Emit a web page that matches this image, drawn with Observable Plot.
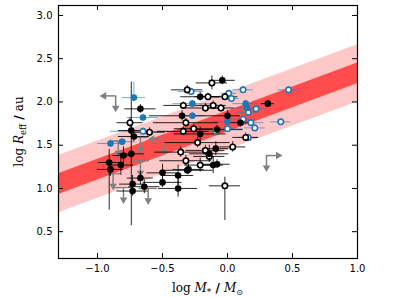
<!DOCTYPE html>
<html>
<head>
<meta charset="utf-8">
<script src="https://cdn.jsdelivr.net/npm/d3@7"></script>
<script src="https://cdn.jsdelivr.net/npm/@observablehq/plot@0.6"></script>
<style>
  html, body { margin: 0; padding: 0; background: white; }
</style>
</head>
<body>
<div id="chart"></div>
<script>
// ---------- data ----------
const xTicks = [-1.0, -0.5, 0.0, 0.5, 1.0];
const yTicks = [0.5, 1.0, 1.5, 2.0, 2.5, 3.0];

// fit line (endpoints at the frame edges) and band half-widths
const fitX = [-1.3, 1.0];
const fitY = [1.05, 2.33];
const fitInner = [0.12, 0.12];
const fitOuter = [0.33, 0.33];

// black filled
const bkX  = [-0.67,-0.74,-0.72,-0.91,-0.90,-0.82,-0.80,-0.74,-0.67,-0.73,-0.73,-0.64,-0.50,-0.50,-0.38,-0.38,-0.30,-0.11,-0.08,-0.04,-0.21,0.31,-0.35,0.00,-0.21,0.10,-0.08,-0.14,-0.09,-0.31];
const bkY  = [1.92,1.67,1.60,1.30,1.22,1.27,1.38,1.40,1.12,1.05,0.97,1.02,1.18,1.07,1.15,1.00,1.22,1.27,1.28,2.25,2.06,1.98,1.84,1.84,1.63,1.76,1.68,1.40,1.46,1.21];
const bkXe = [0.12,0.10,0.12,0.08,0.10,0.10,0.08,0.10,0.10,0.10,0.12,0.12,0.12,0.15,0.12,0.15,0.12,0.08,0.10,0.10,0.15,0.05,0.25,0.10,0.20,0.08,0.20,0.15,0.10,0.20];
const bkYlo= [0.05,0.05,0.06,0.55,0.08,0.12,0.10,0.83,0.08,0.10,0.06,0.08,0.10,0.06,0.12,0.10,0.06,0.10,0.05,0.05,0.05,0.04,0.06,0.06,0.08,0.05,0.05,0.10,0.08,0.05];
const bkYhi= [0.05,0.05,0.06,0.15,0.08,0.12,0.10,0.83,0.08,0.10,0.06,0.08,0.10,0.06,0.12,0.10,0.06,0.10,0.05,0.05,0.05,0.04,0.06,0.06,0.08,0.05,0.05,0.10,0.08,0.05];

// black open
const opX  = [-0.12,-0.31,-0.15,-0.02,-0.34,-0.17,-0.11,-0.05,-0.32,-0.26,-0.34,-0.75,-0.60,0.04,0.14,-0.17,-0.36,-0.32,-0.21,-0.02,-0.23,-0.14];
const opY  = [2.22,2.14,2.06,2.06,1.96,1.93,1.96,1.93,1.76,1.69,1.66,1.76,1.65,1.48,1.59,1.44,1.42,1.32,1.27,1.03,1.53,1.37];
const opXe = [0.12,0.12,0.10,0.10,0.15,0.15,0.10,0.10,0.25,0.15,0.20,0.10,0.12,0.10,0.10,0.15,0.20,0.20,0.12,0.12,0.25,0.12];
const opYlo= [0.08,0.05,0.04,0.04,0.04,0.05,0.05,0.04,0.05,0.05,0.05,0.06,0.05,0.06,0.05,0.06,0.06,0.06,0.08,0.40,0.06,0.05];
const opYhi= [0.08,0.05,0.04,0.04,0.04,0.05,0.05,0.04,0.05,0.05,0.05,0.06,0.05,0.06,0.05,0.06,0.06,0.06,0.08,0.10,0.06,0.05];

// blue filled
const bfX  = [-0.72,-0.65,-0.90,-0.81,-0.27,0.14,0.15,-0.27,0.00];
const bfY  = [2.05,1.82,1.52,1.54,1.98,1.98,1.93,1.84,1.77];
const bfXe = [0.09,0.12,0.10,0.10,0.15,0.10,0.10,0.10,0.12];
const bfYlo= [0.05,0.04,0.04,0.04,0.04,0.04,0.04,0.04,0.04];
const bfYhi= [0.18,0.04,0.04,0.04,0.04,0.04,0.04,0.04,0.04];

// blue open
const boX  = [-0.28,0.12,0.47,0.01,0.03,0.16,0.22,0.12,0.18,0.21,0.41,0.00,-0.09,0.16,-0.65];
const boY  = [2.12,2.14,2.14,2.10,2.04,1.88,1.92,1.80,1.76,1.70,1.77,1.69,1.66,1.59,1.66];
const boXe = [0.10,0.08,0.08,0.06,0.06,0.08,0.08,0.10,0.10,0.08,0.08,0.12,0.10,0.08,0.25];
const boYlo= [0.04,0.04,0.04,0.04,0.04,0.04,0.04,0.04,0.04,0.04,0.04,0.04,0.04,0.04,0.04];
const boYhi= [0.04,0.04,0.04,0.04,0.04,0.04,0.04,0.04,0.04,0.04,0.04,0.04,0.04,0.04,0.04];

// grey upper limits (arrow down), some also limited in x
const glX   = [-0.86,-0.49,0.30,-0.84,-0.67,-0.67,-0.88,-0.80,-0.61];
const glY   = [2.07,1.57,1.38,1.55,1.59,1.32,1.17,1.01,1.00];
const glXe  = [0,0,0,0.06,0.06,0.07,0.06,0.07,0.07];
const glXdir= [-1,-1,1,0,0,0,0,0,0];

// ---------- styling constants ----------
const BLUE = "#1f77b4", GREY = "#808080";
const limLenY = 0.14, limLenX = 0.09;

function rows(x, y, xe, ylo, yhi) {
  return x.map((v, i) => ({x: v, y: y[i], xe: xe[i], ylo: ylo[i], yhi: yhi[i]}));
}
const bk = rows(bkX, bkY, bkXe, bkYlo, bkYhi);
const op = rows(opX, opY, opXe, opYlo, opYhi);
const bf = rows(bfX, bfY, bfXe, bfYlo, bfYhi);
const bo = rows(boX, boY, boXe, boYlo, boYhi);
const fit = fitX.map((v, i) => ({x: v, y: fitY[i], inner: fitInner[i], outer: fitOuter[i]}));
const gl = glX.map((v, i) => ({x: v, y: glY[i], xe: glXe[i], dir: glXdir[i]}));

function errMarks(data, color, opacity) {
  return [
    Plot.ruleY(data, {y: "y", x1: d => d.x - d.xe, x2: d => d.x + d.xe, stroke: color, strokeOpacity: opacity, strokeWidth: 1}),
    Plot.ruleX(data, {x: "x", y1: d => d.y - d.ylo, y2: d => d.y + d.yhi, stroke: color, strokeOpacity: opacity, strokeWidth: 1})
  ];
}

const W = 415, H = 297, mL = 58, mR = 58, mT = 5, mB = 39;
const frameW = W - mL - mR, frameH = H - mT - mB;
const fmt = d => d.toFixed(1).replace("-", "\u2212");

const chart = Plot.plot({
  width: W, height: H,
  marginLeft: mL, marginRight: mR, marginTop: mT, marginBottom: mB,
  style: {fontFamily: "DejaVu Sans", fontSize: "10px", background: "white", color: "black"},
  x: {domain: [-1.3, 1.0]},
  y: {domain: [0.19, 3.115]},
  marks: [
    Plot.areaY(fit, {x: "x", y1: d => d.y - d.outer, y2: d => d.y + d.outer, fill: "#ffc8c8"}),
    Plot.areaY(fit, {x: "x", y1: d => d.y - d.inner, y2: d => d.y + d.inner, fill: "#ff4d4d"}),
    // grey limits
    Plot.ruleY(gl.filter(d => d.xe > 0), {y: "y", x1: d => d.x - d.xe, x2: d => d.x + d.xe, stroke: GREY, strokeWidth: 1.3}),
    Plot.ruleX(gl, {x: "x", y1: "y", y2: d => d.y - limLenY, stroke: GREY, strokeWidth: 1.5}),
    Plot.dot(gl, {x: "x", y: d => d.y - limLenY, symbol: "triangle", rotate: 180, r: 2.8, fill: GREY, stroke: "none"}),
    Plot.ruleY(gl.filter(d => d.dir !== 0), {y: "y", x1: "x", x2: d => d.x + d.dir * limLenX, stroke: GREY, strokeWidth: 1.5}),
    Plot.dot(gl.filter(d => d.dir !== 0), {x: d => d.x + d.dir * limLenX, y: "y", symbol: "triangle", rotate: d => d.dir * 90, r: 2.8, fill: GREY, stroke: "none"}),
    // error bars
    ...errMarks(bo, BLUE, 0.6),
    ...errMarks(bf, BLUE, 0.6),
    ...errMarks(op, "black", 0.85),
    ...errMarks(bk, "black", 0.85),
    // points
    Plot.dot(bo, {x: "x", y: "y", r: 2.7, fill: "white", stroke: BLUE, strokeWidth: 1.6}),
    Plot.dot(bf, {x: "x", y: "y", r: 3.3, fill: BLUE, stroke: "none"}),
    Plot.dot(op, {x: "x", y: "y", r: 2.7, fill: "white", stroke: "black", strokeWidth: 1.6}),
    Plot.dot(bk, {x: "x", y: "y", r: 3.3, fill: "black", stroke: "none"}),
    // frame + inward ticks
    Plot.frame({stroke: "black", strokeWidth: 1.2}),
    Plot.ruleX(xTicks, {x: d => d, insetTop: frameH - 5, stroke: "black", strokeWidth: 1}),
    Plot.ruleX(xTicks, {x: d => d, insetBottom: frameH - 5, stroke: "black", strokeWidth: 1}),
    Plot.ruleY(yTicks, {y: d => d, insetRight: frameW - 5, stroke: "black", strokeWidth: 1}),
    Plot.ruleY(yTicks, {y: d => d, insetLeft: frameW - 5, stroke: "black", strokeWidth: 1}),
    Plot.axisX({ticks: xTicks, tickSize: 0, tickPadding: 6, tickFormat: fmt, label: null}),
    Plot.axisY({ticks: yTicks, tickSize: 0, tickPadding: 6, tickFormat: fmt, label: null})
  ]
});

document.getElementById("chart").appendChild(chart);

// axis titles with math-style formatting
const svg = d3.select(chart);
const serif = "'DejaVu Serif', 'Liberation Serif', serif";
const xl = svg.append("text")
  .attr("x", mL + frameW / 2).attr("y", H - 5)
  .attr("text-anchor", "middle").attr("font-family", serif).attr("font-size", 12).attr("fill", "black");
xl.append("tspan").text("log ");
xl.append("tspan").attr("font-style", "italic").text("M");
xl.append("tspan").attr("font-size", 9).attr("dy", 2.5).text("*");
xl.append("tspan").attr("dy", -2.5).attr("font-family", "DejaVu Sans").attr("font-weight", "bold").text(" / ");
xl.append("tspan").attr("font-style", "italic").text("M");
xl.append("tspan").attr("font-size", 8).attr("dy", 2.5).attr("font-family", "DejaVu Sans").text("\u2299");

const yl = svg.append("text")
  .attr("transform", `translate(23,${mT + frameH / 2}) rotate(-90)`)
  .attr("text-anchor", "middle").attr("font-family", serif).attr("font-size", 12).attr("fill", "black");
yl.append("tspan").text("log ");
yl.append("tspan").attr("font-style", "italic").text("R");
yl.append("tspan").attr("font-size", 8.5).attr("dy", 2.5).text("eff");
yl.append("tspan").attr("dy", -2.5).attr("font-family", "DejaVu Sans").attr("font-weight", "bold").text(" / ");
yl.append("tspan").text("au");
</script>
</body>
</html>
